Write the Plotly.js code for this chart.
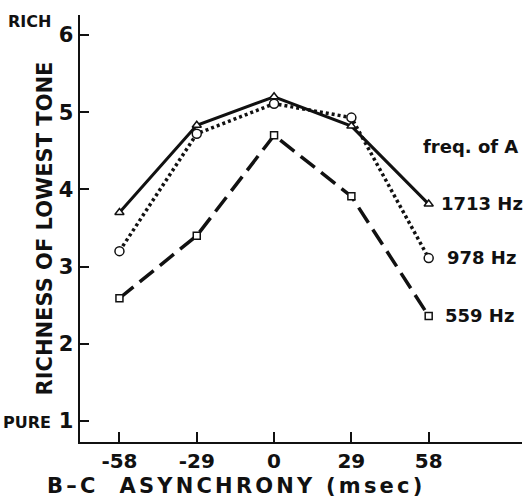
<!DOCTYPE html>
<html>
<head>
<meta charset="utf-8">
<script src="https://cdn.plot.ly/plotly-3.0.1.min.js"></script>
<style>
html,body{margin:0;padding:0;background:#fff;}
#chart{width:524px;height:501px;}
</style>
</head>
<body>
<div id="chart"></div>
<script>
// Data
const asynchrony = [-58, -29, 0, 29, 58];
const xTickText = ['-58', '-29', '0', '29', '58'];
const rich1713 = [3.70, 4.83, 5.20, 4.82, 3.81];
const rich978 = [3.20, 4.72, 5.11, 4.93, 3.11];
const rich559 = [2.59, 3.40, 4.70, 3.91, 2.36];
const seriesLabels = ['1713 Hz', '978 Hz', '559 Hz'];
const yTicks = [1, 2, 3, 4, 5, 6];
const legendTitle = 'freq. of A';
const xTitle = 'B\u2013C\u00a0\u00a0ASYNCHRONY (msec)';
const yTitle = 'RICHNESS OF LOWEST TONE';
const yTopLabel = 'RICH';
const yBottomLabel = 'PURE';

const FONT = 'DejaVu Sans';
const INK = '#111';

function trace(y, dash, width, symbol, size) {
  return {
    x: asynchrony, y: y, type: 'scatter', mode: 'lines+markers',
    line: {color: INK, width: width, dash: dash},
    marker: {symbol: symbol, size: size, color: '#fff', line: {color: INK, width: 1.5}},
    hoverinfo: 'skip'
  };
}

const data = [
  trace(rich1713, 'solid', 3, 'triangle-up', 8),
  trace(rich978, '3px,3px', 3.5, 'circle', 9),
  trace(rich559, '18px,8px', 3.5, 'square', 7)
];

const lastX = asynchrony[asynchrony.length - 1];
const seriesList = [rich1713, rich978, rich559];
const labelShift = [10, 16, 14];

const annotations = seriesList.map((s, i) => ({
  x: lastX, y: s[s.length - 1], xref: 'x', yref: 'y',
  text: seriesLabels[i], showarrow: false, xanchor: 'left', yanchor: 'middle',
  xshift: labelShift[i], yshift: 1,
  font: {family: FONT, size: 18, weight: 'bold', color: INK}
}));

annotations.push({
  x: lastX, y: rich1713[rich1713.length - 1], xref: 'x', yref: 'y',
  text: legendTitle, showarrow: false, xanchor: 'left', yanchor: 'middle',
  xshift: -8, yshift: 58,
  font: {family: FONT, size: 18, weight: 'bold', color: INK}
});

annotations.push({
  x: -0.061, y: yTicks[yTicks.length - 1], xref: 'paper', yref: 'y',
  text: yTopLabel, showarrow: false, xanchor: 'right', yanchor: 'middle', yshift: 14,
  font: {family: FONT, size: 16, weight: 'bold', color: INK}
});
annotations.push({
  x: -0.061, y: yTicks[0], xref: 'paper', yref: 'y',
  text: yBottomLabel, showarrow: false, xanchor: 'right', yanchor: 'middle', yshift: -1,
  font: {family: FONT, size: 16, weight: 'bold', color: INK}
});
annotations.push({
  x: 0.353, y: -0.103, xref: 'paper', yref: 'paper',
  text: '<span style="letter-spacing:3.2px">' + xTitle + '</span>',
  showarrow: false, xanchor: 'center', yanchor: 'middle',
  font: {family: FONT, size: 21, weight: 'bold', color: INK}
});

const layout = {
  width: 524, height: 501,
  margin: {l: 80, r: 2, t: 15, b: 59, pad: 0},
  paper_bgcolor: '#fff', plot_bgcolor: '#fff',
  showlegend: false,
  font: {family: FONT, weight: 'bold', color: INK, size: 20},
  xaxis: {
    range: [-72.8, 93.0], tickvals: asynchrony, ticktext: xTickText,
    ticks: 'inside', ticklen: 10, tickwidth: 2, tickcolor: INK,
    showline: true, linewidth: 2, linecolor: INK,
    showgrid: false, zeroline: false,
    tickfont: {family: FONT, size: 20, weight: 'bold', color: INK}
  },
  yaxis: {
    range: [0.728, 6.259], tickvals: yTicks,
    ticks: 'inside', ticklen: 9, tickwidth: 2, tickcolor: INK,
    showline: true, linewidth: 2.5, linecolor: INK,
    showgrid: false, zeroline: false,
    tickfont: {family: FONT, size: 21, weight: 'bold', color: INK},
    title: {text: yTitle, standoff: 1, font: {family: FONT, size: 21, weight: 'bold', color: INK}}
  },
  annotations: annotations
};

Plotly.newPlot('chart', data, layout, {displayModeBar: false, staticPlot: true});
</script>
</body>
</html>
